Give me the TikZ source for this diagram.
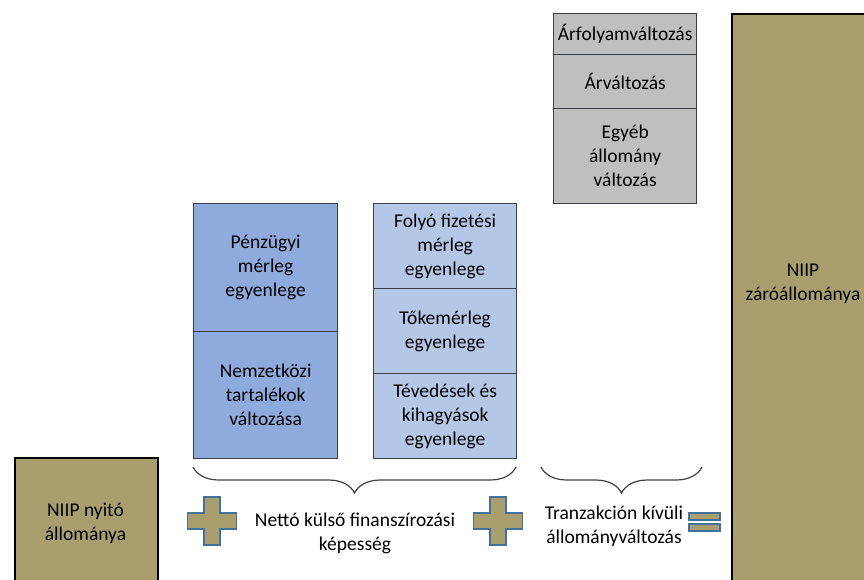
\documentclass[tikz,border=0pt]{standalone}
\usepackage{fontspec}
\setmainfont{Carlito}
\usetikzlibrary{decorations.pathreplacing}
\definecolor{olive}{HTML}{A99F6E}
\definecolor{darkblue}{HTML}{8FAADC}
\definecolor{lightblue}{HTML}{B4C7E7}
\definecolor{greyfill}{HTML}{BFBFBF}
\definecolor{boxline}{HTML}{3B3F46}
\definecolor{plusline}{HTML}{41719C}
\definecolor{braceline}{HTML}{404040}
\begin{document}
\begin{tikzpicture}[x=1pt,y=-1pt,
  txt/.style={align=center,font=\fontsize{19.5}{24}\selectfont,text=black},
  cell/.style={txt,draw=boxline,line width=1.3pt,inner sep=0pt,anchor=north west},
  bluecell/.style={cell,fill=darkblue,minimum width=144pt},
  lbluecell/.style={cell,fill=lightblue,minimum width=143pt},
  greycell/.style={cell,fill=greyfill,minimum width=143pt},
  bigbox/.style={draw=black,line width=2.4pt,fill=olive,inner sep=0pt,anchor=north west},
  bracestyle/.style={draw=braceline,line width=1.2pt,decorate,decoration={brace,amplitude=26pt}},
  signstyle/.style={fill=olive,draw=plusline,line width=1.3pt},
  pics/plusshape/.style={code={
    \path[signstyle] (-8,-24) -- (8,-24) -- (8,-8) -- (24.5,-8) -- (24.5,8) -- (8,8) -- (8,24) -- (-8,24) -- (-8,8) -- (-24.5,8) -- (-24.5,-8) -- (-8,-8) -- cycle;
  }}]
\clip (0,0) rectangle (864,579);
% opening stock
\node[bigbox,minimum width=143pt,minimum height=131pt] (open) at (14,457) {};
\node[txt] (opentxt) at (85.5,523) {NIIP nyitó\\állománya};
% financial account column
\node[bluecell,minimum height=128pt] (fin) at (193,203) {Pénzügyi\\mérleg\\egyenlege};
\node[bluecell,minimum height=127pt] (res) at (193,331) {Nemzetközi\\tartalékok\\változása};
% current/capital column
\node[lbluecell,minimum height=85pt] (cur) at (373,203) {Folyó fizetési\\mérleg\\egyenlege};
\node[lbluecell,minimum height=85pt] (cap) at (373,288) {Tőkemérleg\\egyenlege};
\node[lbluecell,minimum height=85pt] (err) at (373,373) {Tévedések és\\kihagyások\\egyenlege};
% other changes column
\node[greycell,minimum height=41pt] (fx) at (553,13) {Árfolyamváltozás};
\node[greycell,minimum height=54pt] (price) at (553,54) {Árváltozás};
\node[greycell,minimum height=95pt] (other) at (553,108) {Egyéb\\állomány\\változás};
% closing stock
\node[bigbox,minimum width=136pt,minimum height=580pt] (close) at (731,13) {};
\node[txt] (closetxt) at (803,284) {NIIP\\záróállománya};
% braces
\coordinate (b1a) at (516,467);
\coordinate (b1b) at (193,467);
\coordinate (b2a) at (702,467);
\coordinate (b2b) at (541,467);
\draw[bracestyle] (b1a) -- (b1b);
\draw[bracestyle] (b2a) -- (b2b);
\node[txt] (nlb) at (355,533) {Nettó külső finanszírozási\\képesség};
\node[txt] (oth) at (614,526) {Tranzakción kívüli\\állományváltozás};
% signs
\pic at (212,521) {plusshape};
\pic at (498,521) {plusshape};
\path[signstyle] (689,513) rectangle (720,520);
\path[signstyle] (689,524) rectangle (720,531);
\end{tikzpicture}
\end{document}
